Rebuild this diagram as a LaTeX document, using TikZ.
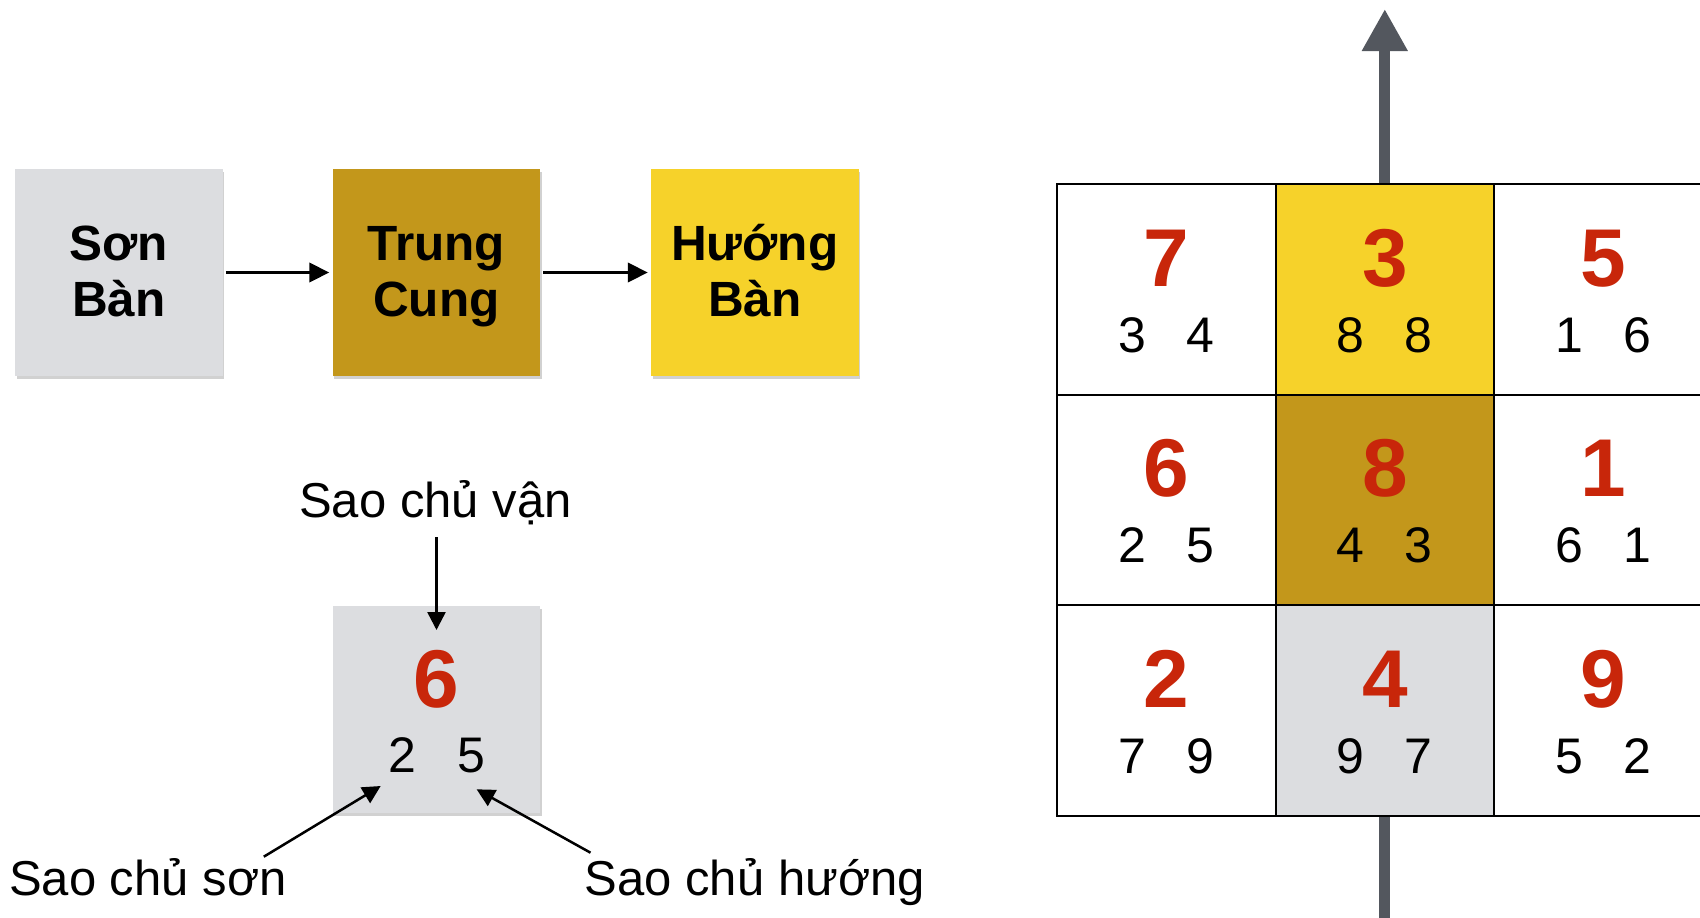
\documentclass[tikz,border=0pt]{standalone}
\usepackage{fontspec}
\setmainfont{Liberation Sans}
\usetikzlibrary{arrows.meta,shadows,calc}
\definecolor{boxgray}{HTML}{DCDDE0}
\definecolor{gold}{HTML}{C3971B}
\definecolor{sun}{HTML}{F6D22A}
\definecolor{redd}{HTML}{C8260A}
\definecolor{arrowgray}{HTML}{53575E}
\begin{document}
\begin{tikzpicture}[x=1pt,y=-1pt,
  flowbox/.style={draw=none, inner sep=0pt, minimum width=207.5pt, minimum height=207pt,
    drop shadow={shadow xshift=1.5pt, shadow yshift=-2.5pt, opacity=0.3, fill=black!60}},
  flowtxt/.style={anchor=base, inner sep=0pt, font=\fontsize{49.5}{57}\selectfont\bfseries},
  cell/.style={draw=black, line width=2pt, inner sep=0pt, minimum width=218.5pt, minimum height=210.6pt},
  bigdig/.style={anchor=base, inner sep=0pt, text=redd, font=\fontsize{82}{82}\selectfont\bfseries},
  smalldig/.style={anchor=base, inner sep=0pt, font=\fontsize{50}{50}\selectfont},
  lbl/.style={inner sep=0pt, font=\fontsize{49}{49}\selectfont},
  flowarrow/.style={line width=3.5pt, -{Triangle[length=20pt,width=19pt]}, shorten <=3pt, shorten >=3pt},
  lblarrow/.style={line width=2.5pt, -{Triangle[length=18pt,width=18pt]}},
  northarrow/.style={draw=arrowgray, line width=11pt},
]
\useasboundingbox (0,0) rectangle (1700,918);
\clip (0,0) rectangle (1700,918);

% flow boxes
\node[flowbox, fill=boxgray] (son) at (119,272.5) {};
\node[flowbox, fill=gold] (trung) at (436.3,272.5) {};
\node[flowbox, fill=sun] (huong) at (754.8,272.5) {};
\node[flowtxt] (sonA) at ($(son.center)+(0,-12.5)$) {Sơn};
\node[flowtxt] (sonB) at ($(son.center)+(0,44.2)$) {Bàn};
\node[flowtxt] (trungA) at ($(trung.center)+(0,-12.5)$) {Trung};
\node[flowtxt] (trungB) at ($(trung.center)+(0,44.2)$) {Cung};
\node[flowtxt] (huongA) at ($(huong.center)+(0,-12.5)$) {Hướng};
\node[flowtxt] (huongB) at ($(huong.center)+(0,44.2)$) {Bàn};
\draw[flowarrow] (son.east) -- (trung.west);
\draw[flowarrow] (trung.east) -- (huong.west);

% key box
\node[flowbox, fill=boxgray] (key) at (436.3,709.8) {};
\node[bigdig] (keyA) at ($(key.center)+(0,-2.8)$) {6};
\node[smalldig] (keyB) at ($(key.center)+(-34.3,63)$) {2};
\node[smalldig] (keyC) at ($(key.center)+(34.7,63)$) {5};
\node[lbl, anchor=base] (lvan) at (435.5,517) {Sao chủ vận};
\node[lbl, anchor=base west] (lson) at (9,895) {Sao chủ sơn};
\node[lbl, anchor=base west] (lhuong) at (584.5,895) {Sao chủ hướng};
\coordinate (vanS) at (436.5,537);
\coordinate (vanT) at (436.5,630);
\coordinate (sonS) at (263.8,856.7);
\coordinate (sonT) at (380.7,786);
\coordinate (huongS) at (590.5,852.7);
\coordinate (huongT) at (476.6,789.3);
\draw[lblarrow] (vanS) -- (vanT);
\draw[lblarrow] (sonS) -- (sonT);
\draw[lblarrow] (huongS) -- (huongT);

% grid
\node[cell, fill=white] (c11) at (1166.3,289.3) {};
\node[cell, fill=sun]   (c12) at (1384.8,289.3) {};
\node[cell, fill=white] (c13) at (1603.3,289.3) {};
\node[cell, fill=white] (c21) at (1166.3,499.9) {};
\node[cell, fill=gold]  (c22) at (1384.8,499.9) {};
\node[cell, fill=white] (c23) at (1603.3,499.9) {};
\node[cell, fill=white] (c31) at (1166.3,710.5) {};
\node[cell, fill=boxgray] (c32) at (1384.8,710.5) {};
\node[cell, fill=white] (c33) at (1603.3,710.5) {};

\foreach \c/\b/\l/\r in {c11/7/3/4, c12/3/8/8, c13/5/1/6,
                         c21/6/2/5, c22/8/4/3, c23/1/6/1,
                         c31/2/7/9, c32/4/9/7, c33/9/5/2}{
  \node[bigdig] (\c b) at ($(\c.center)+(0,-3.3)$) {\b};
  \node[smalldig] (\c l) at ($(\c.center)+(-34,63)$) {\l};
  \node[smalldig] (\c r) at ($(\c.center)+(34,63)$) {\r};
}

% north arrow
\coordinate (ntip) at (1384.8,9);
\coordinate (sbot) at (1384.8,930);
\draw[northarrow, -{Triangle[length=42pt,width=43pt]}, arrowgray] (c12.north) -- (ntip);
\draw[northarrow] (c32.south) -- (sbot);
\end{tikzpicture}
\end{document}
